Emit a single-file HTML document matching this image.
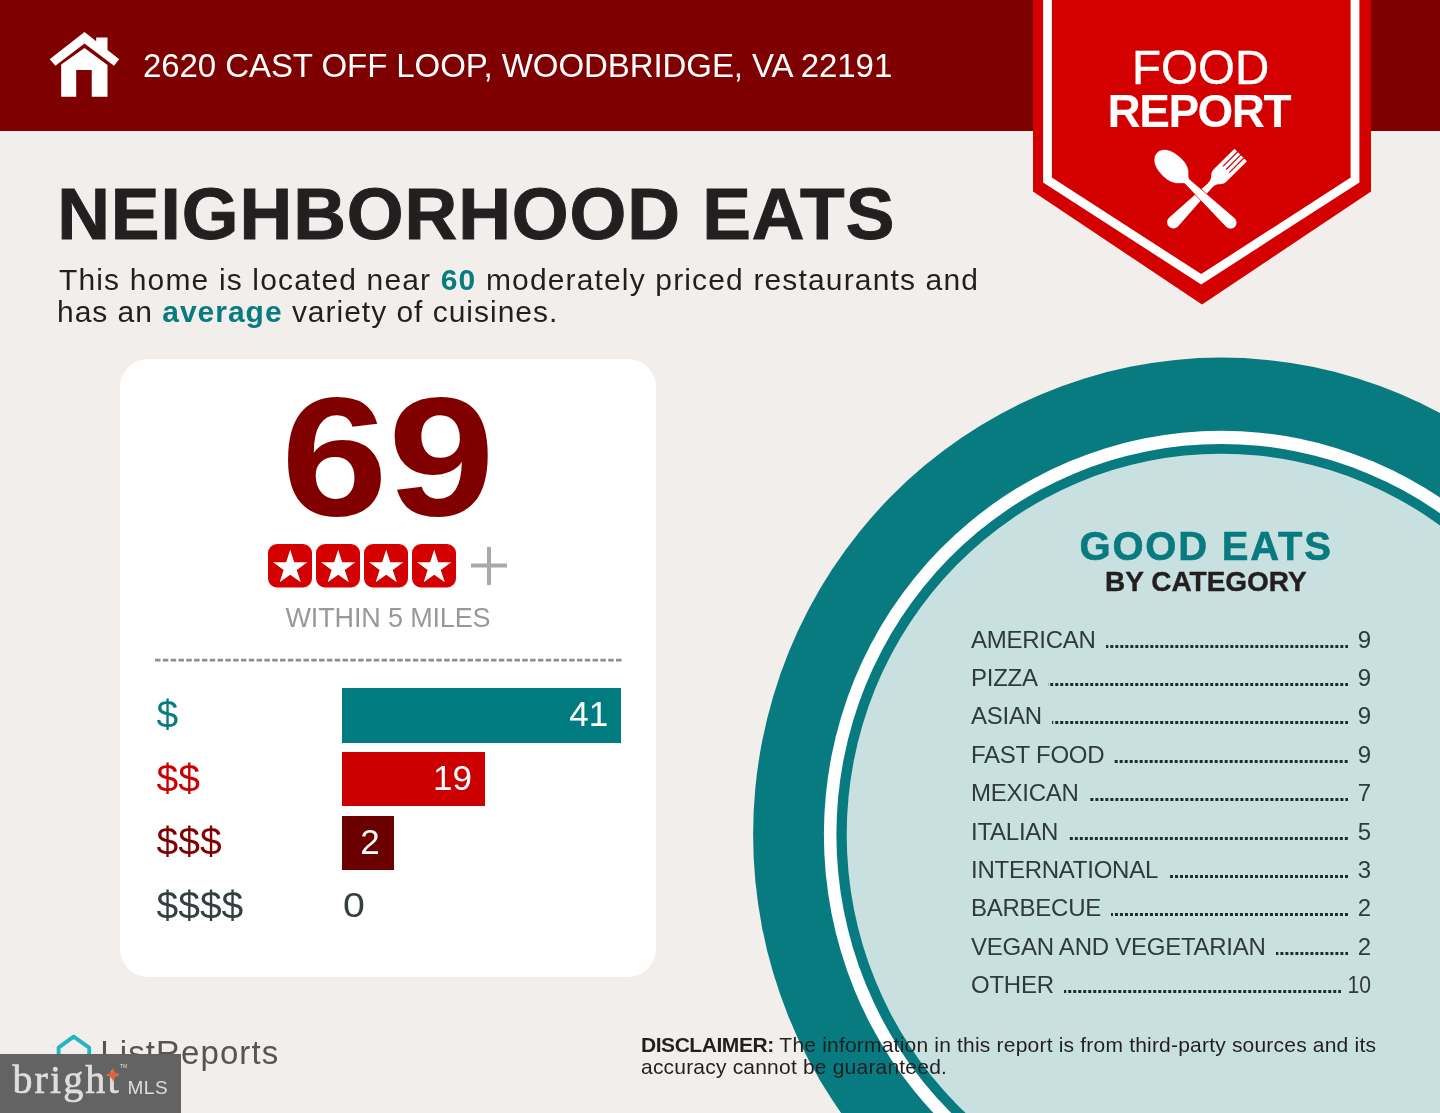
<!DOCTYPE html>
<html lang="en">
<head>
<meta charset="utf-8">
<title>Food Report - Neighborhood Eats</title>
<style>
html,body{margin:0;padding:0;}
body{width:1440px;height:1113px;position:relative;overflow:hidden;background:#f2eeeb;font-family:"Liberation Sans",Arial,sans-serif;color:#231f20;}
.abs{position:absolute;white-space:nowrap;line-height:1;}
#hdr{position:absolute;left:0;top:0;width:1440px;height:130.6px;background:#7f0000;}
#addr{left:143px;top:49.3px;font-size:33px;letter-spacing:-0.07px;color:#fff;}
#title{left:57.2px;top:177.3px;font-size:73px;font-weight:700;letter-spacing:0.95px;color:#231f20;-webkit-text-stroke:1px #231f20;}
#sub{left:59px;top:264.3px;font-size:30px;line-height:32px;letter-spacing:1.15px;color:#231f20;white-space:nowrap;position:absolute;}
#sub b{color:#087b80;}
#card{position:absolute;left:120px;top:359px;width:536px;height:618px;background:#fff;border-radius:28px;}
#n69{left:0;width:536px;text-align:center;top:13px;font-size:169px;font-weight:700;color:#800000;transform:scaleX(1.137);transform-origin:50% 50%;}
#within{left:0;width:536px;text-align:center;top:245.5px;font-size:27px;letter-spacing:-0.15px;color:#999;}
#dash{position:absolute;left:35px;top:298px;}
.dl{left:36.5px;font-size:39px;}
.bar{position:absolute;left:222px;height:54.5px;color:#fff;font-size:35px;line-height:52.5px;text-align:right;box-sizing:border-box;padding-right:13px;}
#circ{position:absolute;left:0;top:0;}
#good{left:1079.5px;top:526px;font-size:40px;font-weight:700;letter-spacing:1.8px;color:#087b80;-webkit-text-stroke:0.6px #087b80;}
#bycat{left:1105px;top:568.3px;font-size:28px;font-weight:700;color:#231f20;-webkit-text-stroke:0.4px #231f20;}
.row{position:absolute;left:971px;width:400px;height:31px;font-size:24px;line-height:31px;color:#2f3a3b;display:flex;align-items:baseline;letter-spacing:-0.25px;}
.row .l{flex:0 0 auto;padding-right:10px;}.row .d{margin-left:0;}
.row .d{flex:1 1 auto;height:3px;background-image:linear-gradient(270deg,#1f2c2d 2.6px,transparent 2.6px);background-size:5px 3px;background-position:right top;background-repeat:repeat-x;}
.row .n{flex:0 0 23px;width:23px;text-align:right;letter-spacing:0;}
#disc{position:absolute;left:641px;top:1034px;font-size:21px;line-height:22px;letter-spacing:0.2px;color:#231f20;white-space:nowrap;}
#lr{left:100.3px;top:1036.3px;font-size:33px;letter-spacing:1.1px;color:#555;}
#mls{position:absolute;left:0;top:1053.6px;width:180.5px;height:60px;background:#636363;}
#bright{left:12.5px;top:6.8px;font-family:"Liberation Serif",serif;font-weight:400;font-size:40px;letter-spacing:2.1px;-webkit-text-stroke:0.7px #dedede;color:#dedede;}
#mlst{left:127.5px;top:24.6px;font-size:19px;color:#dedede;letter-spacing:0.5px;}
#tm{left:120px;top:10.5px;font-size:5px;color:#dedede;}
#disc b{letter-spacing:-0.45px;}
</style>
</head>
<body>
<div id="hdr"></div>
<svg id="circ" width="1440" height="1113" viewBox="0 0 1440 1113">
  <ellipse cx="1221.2" cy="834.6" rx="468.1" ry="477" fill="#087b80"/>
  <ellipse cx="1221.2" cy="834.6" rx="397.3" ry="403.8" fill="#ffffff"/>
  <ellipse cx="1221.2" cy="834.6" rx="384.8" ry="390.7" fill="#087b80"/>
  <ellipse cx="1221.2" cy="834.6" rx="374.5" ry="380.9" fill="#c8e0df"/>
  <!-- badge -->
  <polygon points="1033,0 1371,0 1371,191.4 1202,304.6 1033,191.4" fill="#d40000"/>
  <polyline points="1047.5,-5 1047.5,180 1201.2,279.3 1355,180 1355,-5" fill="none" stroke="#fff" stroke-width="8.8" stroke-linejoin="miter"/>
  <!-- house -->
  <g fill="#fff">
    <path d="M84.5,32.1 L96.2,41.2 L96.2,37.4 L107.5,37.4 L107.5,50 L119.2,59.2 L114,65.7 L84.5,43.4 L55.4,65.7 L49.7,59.2 Z"/>
    <path d="M84.5,47.9 L107.5,65 L107.5,96.8 L91.75,96.8 L91.75,70.1 L76.2,70.1 L76.2,96.8 L61.2,96.8 L61.2,64.5 Z"/>
  </g>
  <!-- fork & spoon -->
  <g transform="translate(1201.4,194.2) rotate(45)" fill="#fff">
    <path d="M-8.85,-55.6 L-8.85,-27 C-8.85,-19 -3,-21 -3,-12 L-6.35,39.5 A6.35,6.35 0 0 0 6.35,39.5 L3,-12 C3,-21 8.85,-19 8.85,-27 L8.85,-55.6 Z"/>
    <g stroke="#d40000" stroke-width="1.2">
      <line x1="-4.45" y1="-56" x2="-4.45" y2="-35"/>
      <line x1="0" y1="-56" x2="0" y2="-35"/>
      <line x1="4.45" y1="-56" x2="4.45" y2="-35"/>
    </g>
  </g>
  <g transform="translate(1201.6,195.2) rotate(-46.5)" fill="#fff" stroke="#d40000" stroke-width="0.7">
    <path d="M0,-61.8 C5,-61.8 9.5,-58 11.6,-51 C12.6,-47.5 12.9,-44 12.9,-40 C12.9,-34 11.5,-30 9,-26.5 C7,-23.8 4.5,-22.5 3.3,-20 L6.35,40 A6.35,6.35 0 0 1 -6.35,40 L-3.3,-20 C-4.5,-22.5 -7,-23.8 -9,-26.5 C-11.5,-30 -12.9,-34 -12.9,-40 C-12.9,-44 -12.6,-47.5 -11.6,-51 C-9.5,-58 -5,-61.8 0,-61.8 Z"/>
  </g>
</svg>
<div id="addr" class="abs">2620 CAST OFF LOOP, WOODBRIDGE, VA 22191</div>
<div class="abs" style="left:1132px;top:43.7px;font-size:47.5px;color:#fff;-webkit-text-stroke:0.4px #fff;">FOOD</div>
<div class="abs" style="left:1107.5px;top:87.8px;font-size:46px;font-weight:700;letter-spacing:-1.5px;color:#fff;">REPORT</div>
<div id="title" class="abs">NEIGHBORHOOD EATS</div>
<div id="sub">This home is located near <b>60</b> moderately priced restaurants and<br><span style="letter-spacing:0.98px;margin-left:-2px">has an <b>average</b> variety of cuisines.</span></div>

<div id="card">
  <div id="n69" class="abs">69</div>
  <svg style="position:absolute;left:147px;top:185px" width="245" height="44" viewBox="0 0 245 44">
    <defs><polygon id="st" points="0,-18 4.06,-5.58 17.12,-5.56 6.56,2.13 10.58,14.56 0,6.9 -10.58,14.56 -6.56,2.13 -17.12,-5.56 -4.06,-5.58" fill="#fff"/></defs>
    <g fill="#d40000">
      <rect x="1" y="0" width="44" height="43.5" rx="9"/><rect x="49" y="0" width="44" height="43.5" rx="9"/><rect x="97" y="0" width="44" height="43.5" rx="9"/><rect x="145" y="0" width="44" height="43.5" rx="9"/>
    </g>
    <use href="#st" x="23.2" y="23.8"/><use href="#st" x="71.2" y="23.8"/><use href="#st" x="119.2" y="23.8"/><use href="#st" x="167.2" y="23.8"/>
    <path d="M204,21.5 H240 M222,3 V41" stroke="#a8a8a8" stroke-width="4" fill="none"/>
  </svg>
  <div id="within" class="abs">WITHIN 5 MILES</div>
  <svg id="dash" width="470" height="6" viewBox="0 0 470 6"><line x1="0" y1="3.2" x2="466.7" y2="3.2" stroke="#8e8e8e" stroke-width="2.8" stroke-dasharray="5.5 2.314"/></svg>
  <div class="abs dl" style="top:336px;color:#087b80;">$</div>
  <div class="abs dl" style="top:399.7px;color:#cc0000;">$$</div>
  <div class="abs dl" style="top:463.4px;color:#800000;">$$$</div>
  <div class="abs dl" style="top:527.1px;color:#333f40;">$$$$</div>
  <div class="bar" style="top:329px;width:279.3px;background:#007b80;">41</div>
  <div class="bar" style="top:392.8px;width:143px;background:#cc0000;">19</div>
  <div class="bar" style="top:456.6px;width:52.3px;background:#6b0000;padding-right:14.5px;">2</div>
  <div class="abs" style="left:222.5px;top:527.5px;font-size:35px;color:#333f40;transform:scaleX(1.12);transform-origin:0 50%;">0</div>
</div>

<div id="good" class="abs">GOOD EATS</div>
<div id="bycat" class="abs">BY CATEGORY</div>
<div class="row" style="top:624px"><span class="l">AMERICAN</span><span class="d"></span><span class="n">9</span></div>
<div class="row" style="top:662px"><span class="l">PIZZA</span><span class="d"></span><span class="n">9</span></div>
<div class="row" style="top:700px"><span class="l">ASIAN</span><span class="d"></span><span class="n">9</span></div>
<div class="row" style="top:739px"><span class="l">FAST FOOD</span><span class="d"></span><span class="n">9</span></div>
<div class="row" style="top:777px"><span class="l">MEXICAN</span><span class="d"></span><span class="n">7</span></div>
<div class="row" style="top:816px"><span class="l">ITALIAN</span><span class="d"></span><span class="n">5</span></div>
<div class="row" style="top:854px"><span class="l">INTERNATIONAL</span><span class="d"></span><span class="n">3</span></div>
<div class="row" style="top:892px"><span class="l">BARBECUE</span><span class="d"></span><span class="n">2</span></div>
<div class="row" style="top:931px"><span class="l">VEGAN AND VEGETARIAN</span><span class="d"></span><span class="n">2</span></div>
<div class="row" style="top:969px"><span class="l">OTHER</span><span class="d"></span><span class="n" style="flex-basis:30px;width:30px;transform:scaleX(0.88);transform-origin:100% 50%">10</span></div>

<svg style="position:absolute;left:54px;top:1030px" width="42" height="40" viewBox="0 0 42 40">
  <path d="M4.6,36 V17.6 L19.6,6.6 L35.2,17.6 V36" fill="none" stroke="#1fb5c1" stroke-width="3.8" stroke-linejoin="round" stroke-linecap="round"/>
</svg>
<div id="lr" class="abs">ListReports</div>
<div id="disc"><b>DISCLAIMER:</b> The information in this report is from third-party sources and its<br>accuracy cannot be guaranteed.</div>
<div id="mls">
  <div id="bright" class="abs">bright</div>
  <div id="tm" class="abs">TM</div>
  <div id="mlst" class="abs">MLS</div>
  <svg style="position:absolute;left:105px;top:13.8px" width="16" height="16" viewBox="-8 -8 16 16"><path d="M0,-7.5 Q0.8,-0.8 7.5,0 Q0.8,0.8 0,7.5 Q-0.8,0.8 -7.5,0 Q-0.8,-0.8 0,-7.5Z" fill="#e0633a"/></svg>
</div>
</body>
</html>
